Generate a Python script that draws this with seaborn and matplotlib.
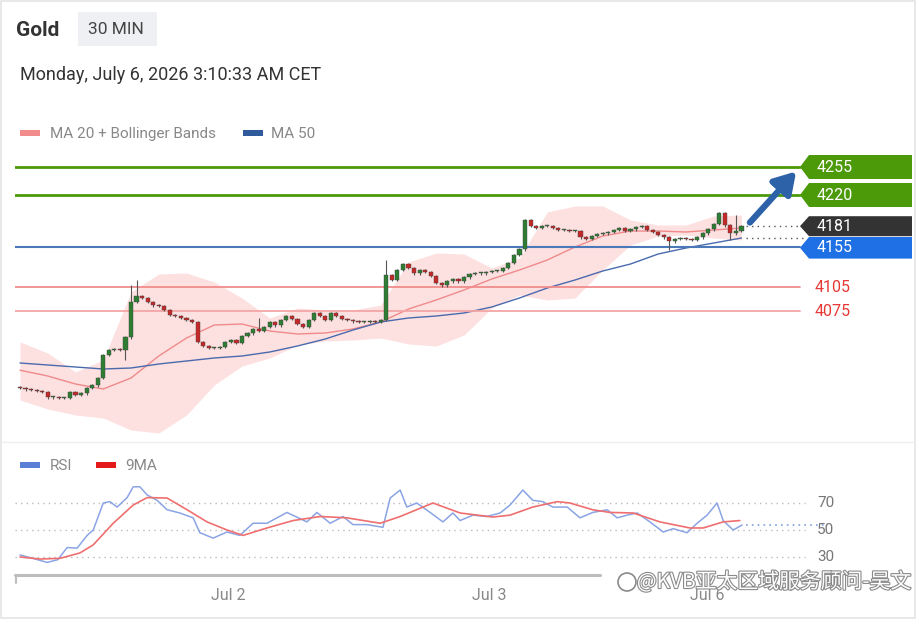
import numpy as np
import matplotlib.pyplot as plt
import matplotlib.patheffects as pe
from matplotlib.patches import Polygon, Rectangle
import pandas as pd
import seaborn as sns

# ---- DATA ----
# 30 min candles, Gold
first_open = 3980
closes = [3979, 3977, 3976, 3975, 3974, 3967, 3967, 3966, 3966, 3974,
          3970, 3972, 3979, 3982, 3991, 4020, 4026, 4027, 4026, 4042,
          4086, 4094, 4091, 4086, 4082, 4081, 4076, 4070, 4069, 4066,
          4064, 4061, 4036, 4031, 4029, 4029, 4030, 4036, 4039, 4035,
          4044, 4047, 4052, 4050, 4055, 4061, 4057, 4064, 4069, 4065,
          4059, 4055, 4064, 4072, 4069, 4064, 4072, 4069, 4065, 4064,
          4062, 4061, 4061, 4062, 4061, 4064, 4120, 4114, 4126, 4134,
          4129, 4122, 4126, 4124, 4119, 4110, 4107, 4112, 4115, 4112,
          4117, 4121, 4122, 4122, 4124, 4125, 4125, 4129, 4135, 4145,
          4152, 4189, 4181, 4179, 4181, 4181, 4179, 4176, 4176, 4175,
          4175, 4167, 4165, 4169, 4171, 4172, 4174, 4176, 4179, 4175,
          4177, 4180, 4181, 4176, 4174, 4170, 4167, 4162, 4165, 4166,
          4165, 4164, 4167, 4172, 4177, 4184, 4197, 4182, 4172, 4175,
          4181]
# long wicks: candle -> (high, low)
long_wicks = {19: (None, 4014), 20: (4107, None), 21: (4114, None),
              43: (4066, None), 66: (4139, None), 76: (None, 4105),
              117: (None, 4151), 128: (None, 4164), 129: (4195, None)}

ind_idx = [0, 5, 10, 15, 20, 25, 30, 35, 40, 45, 50, 55, 60, 65,
           70, 75, 80, 85, 90, 95, 100, 105, 110, 115, 120, 125, 130]
ma50 = [4010, 4007.5, 4005, 4002.5, 4003.75, 4008.75, 4012.5, 4016.25, 4018.75,
        4023.75, 4031.25, 4040, 4051.25, 4061.25, 4066.25, 4068.75, 4072.5, 4080,
        4091.25, 4103.75, 4113.75, 4125, 4133.75, 4146.25, 4153.75, 4160, 4166.25]
ma20 = [4001, 3993.75, 3983.75, 3977.5, 3991.25, 4018.75, 4041.25, 4057.5, 4058.75,
        4050, 4046.25, 4047.5, 4052.5, 4061.25, 4077.5, 4088.75, 4101.25, 4115,
        4126.25, 4138.75, 4155, 4168.75, 4175, 4175, 4173.75, 4176.25, 4178.75]
bb_upper = [4036.25, 4022.5, 3998.75, 4013.75, 4098.75, 4121.25, 4122.5, 4111.25,
            4091.25, 4066.25, 4078.75, 4076.25, 4076.25, 4082.5, 4136.25, 4147.5,
            4146.25, 4128.75, 4141.25, 4198.75, 4206.25, 4206.25, 4188.75, 4182.5,
            4182.5, 4193.75, 4195]
bb_lower = [3963.75, 3952.5, 3945, 3941.25, 3926.25, 3922.5, 3945, 3982.5, 4006.25,
            4016.25, 4032.5, 4037.5, 4038.75, 4041.25, 4033.75, 4031.25, 4045,
            4078.75, 4095, 4088.75, 4091.25, 4126.25, 4157.5, 4168.75, 4170,
            4166.25, 4163.75]

rsi_idx = [0, 2.3, 4.9, 6.8, 8.5, 10.3, 12.1, 13.2, 15, 16.2, 17.5, 19.3, 20.4,
           21.6, 22.9, 24.7, 26.5, 28.8, 31.2, 32.4, 34.8, 37.3, 39.6, 42, 44.5,
           48.1, 51.7, 53.5, 55.9, 58.2, 60, 62.5, 65.4, 66.7, 68.5, 69.7, 71.5,
           73.9, 76.2, 78, 79.3, 81.6, 84.1, 86.5, 88.3, 90.6, 92.4, 94.2, 96,
           98.6, 100.9, 103.2, 105.8, 107.6, 109.4, 111.2, 113.5, 115.9, 117.7,
           120.2, 122, 123.8, 125.6, 126.7, 128.5, 130.1]
rsi = [31.5, 29, 26, 28, 37, 36.6, 46, 50, 70, 71, 67, 74, 82, 82, 76, 72, 65,
       62.6, 59, 48, 44, 48.5, 46, 55, 55, 63, 56, 63, 55, 60, 54, 54, 52, 73.7,
       79.6, 67, 70, 63, 56, 62.6, 57, 61, 60, 62.6, 68.5, 79.6, 72, 71, 67, 67,
       59, 63, 65, 59, 61, 62.6, 56, 48.5, 51, 48, 55, 61, 70, 57, 50, 53.7]
rsi_ma_idx = [0, 3.6, 7.2, 10.8, 13.2, 16.8, 20.4, 22.9, 26.5, 30.1, 33.7, 37.3,
              40.2, 44.5, 49.2, 54.1, 58.9, 64.9, 68.5, 74.4, 79.3, 85.2, 88.3,
              92.4, 96.8, 99.1, 103.2, 106.3, 110.5, 115.3, 120.7, 123.1, 126.7,
              129.7]
rsi_ma = [30, 28.5, 29, 33, 39, 55, 68.5, 74, 73.7, 65, 56, 50, 46, 51.5, 57, 60,
          59, 55, 60, 70, 62.6, 59.6, 61, 67, 71, 70, 65, 63, 62.6, 56, 51.5, 51.5,
          56, 57]

levels_green = [4255, 4220]
level_pivot = 4155
levels_red = [4105, 4075]
last_price = 4181
ma50_last = 4166

date_ticks = [37.5, 84.5, 123.8]
date_labels = ['Jul 2', 'Jul 3', 'Jul 6']
rsi_levels = [70, 50, 30]
rsi_last = 54

# ---- STYLE ----
sns.set_theme(style='white')
plt.rcParams['font.family'] = ['Roboto', 'DejaVu Sans']

W, H = 920, 624
fig = plt.figure(figsize=(W / 100, H / 100), dpi=100)
fig.patch.set_facecolor('white')


def fx(x):
    return x / W


def fy(y):
    return 1 - y / H


# pixel overlay for frame / decorations
ov = fig.add_axes([0, 0, 1, 1])
ov.set_xlim(0, W)
ov.set_ylim(H, 0)
ov.axis('off')
ov.add_patch(Rectangle((1, 1), 914, 617, fill=False, ec='#e4e4e4', lw=1.2))
ov.plot([1, 915], [442, 442], color='#eeeeee', lw=1)
ov.add_patch(Rectangle((78, 12), 79, 34, fc='#eef0f3', ec='none'))

fig.text(fx(16), fy(30), 'Gold', fontsize=15, fontweight='bold',
         color='#333333', va='center')
fig.text(fx(88), fy(29), '30 MIN', fontsize=12.5, color='#444444', va='center')
fig.text(fx(20), fy(75), 'Monday, July 6, 2026 3:10:33 AM CET', fontsize=13,
         color='#333333', va='center')

# legends
ov.add_patch(Rectangle((20, 130), 20, 6, fc='#f28b8b', ec='none'))
fig.text(fx(50), fy(134), 'MA 20 + Bollinger Bands', fontsize=11,
         color='#888888', va='center')
ov.add_patch(Rectangle((243, 130), 20, 6, fc='#2f5a9c', ec='none'))
fig.text(fx(271), fy(134), 'MA 50', fontsize=11, color='#888888', va='center')

ov.add_patch(Rectangle((20, 462), 20, 6, fc='#5b7fd6', ec='none'))
fig.text(fx(50), fy(466), 'RSI', fontsize=11, color='#888888', va='center')
ov.add_patch(Rectangle((96, 462), 20, 6, fc='#e41a1a', ec='none'))
fig.text(fx(125), fy(466), '9MA', fontsize=11, color='#888888', va='center')

# ---- PRICE PANEL ----
x0 = -5 / 5.55
x1 = 895 / 5.55
ax = fig.add_axes([fx(15), fy(440), fx(900), 290 / H])
ax.set_xlim(x0, x1)
ax.set_ylim(3913.75, 4276.25)
ax.axis('off')

ax.fill_between(ind_idx, bb_lower, bb_upper, color='#fde0e0', lw=0, zorder=1)
sns.lineplot(x=ind_idx, y=ma20, ax=ax, color='#f08a8a', lw=1, zorder=2)
sns.lineplot(x=ind_idx, y=ma50, ax=ax, color='#4a6aae', lw=1, zorder=2)

line_end = (800 - 15) / 900
for lv in levels_green:
    ax.axhline(lv, xmin=0, xmax=line_end, color='#4c9a0a', lw=2, zorder=3)
ax.axhline(level_pivot, xmin=0, xmax=line_end, color='#4a78b8', lw=1.5, zorder=3)
for lv, c in zip(levels_red, ['#f08c8c', '#f4a6a6']):
    ax.axhline(lv, xmin=0, xmax=line_end, color=c, lw=1.3, zorder=3)

# candles
opens = [first_open] + closes[:-1]
df = pd.DataFrame({'i': np.arange(len(closes)), 'open': opens, 'close': closes})
df['high'] = df[['open', 'close']].max(axis=1) + 1.5
df['low'] = df[['open', 'close']].min(axis=1) - 1.5
for k, (hi, lo) in long_wicks.items():
    if hi is not None:
        df.loc[k, 'high'] = hi
    if lo is not None:
        df.loc[k, 'low'] = lo
up = df['close'] >= df['open']
ax.vlines(df['i'], df['low'], df['high'], color='#555555', lw=0.8, zorder=4)
body = (df['close'] - df['open']).abs().clip(lower=1.3)
ax.bar(df['i'], body, bottom=df[['open', 'close']].min(axis=1), width=0.75,
       color=np.where(up, '#2e7d32', '#c62828'), edgecolor='#444444',
       linewidth=0.3, zorder=5)

# dotted current-price lines
last_i = len(closes) - 1
px805 = (805 - 20) / 5.55
ax.plot([last_i + 0.8, px805], [last_price, last_price], color='#555555',
        lw=1, ls=(0, (1, 3)), zorder=3)
ax.plot([last_i + 0.8, px805], [ma50_last, ma50_last], color='#555555',
        lw=1, ls=(0, (1, 3)), zorder=3)

# arrow
ax.annotate('', xy=((798 - 20) / 5.55, 4252), xytext=((748 - 20) / 5.55, 4183),
            arrowprops=dict(arrowstyle='-|>,head_width=0.55,head_length=0.9',
                            color='#2d62a8', lw=4.5, mutation_scale=14),
            zorder=6)

# price tags
tag_l = (800 - 20) / 5.55
tag_n = (809 - 20) / 5.55
tag_r = (912 - 20) / 5.55
tags = [(levels_green[0], 15, '#4c9a0a'), (levels_green[1], 15, '#4c9a0a'),
        (last_price, 12.5, '#333333'), (level_pivot, 13.5, '#1f6fe5')]
for val, hh, c in tags:
    cy = val if val != level_pivot else val - 1
    ax.add_patch(Polygon([(tag_l, cy), (tag_n, cy + hh), (tag_r, cy + hh),
                          (tag_r, cy - hh), (tag_n, cy - hh)],
                         closed=True, fc=c, ec='none', zorder=7,
                         clip_on=False))
    ax.text((817 - 20) / 5.55, cy, str(val), color='white', fontsize=11.5,
            va='center', ha='left', zorder=8)
for lv in levels_red:
    ax.text((815 - 20) / 5.55, lv, str(lv), color='#e53935', fontsize=11.5,
            va='center', ha='left', zorder=8)

# ---- RSI PANEL ----
ax2 = fig.add_axes([fx(15), fy(575), fx(900), 120 / H])
ax2.set_xlim(x0, x1)
ax2.set_ylim(50 - 45 / 1.35, 50 + 75 / 1.35)
ax2.axis('off')
for lv in rsi_levels:
    ax2.plot([x0, px805], [lv, lv], color='#bbbbbb', lw=1, ls=(0, (1, 3)))
    ax2.text((817 - 20) / 5.55, lv, str(lv), color='#777777', fontsize=11,
             va='center', ha='left')
ax2.plot([last_i + 0.8, (828 - 20) / 5.55], [rsi_last, rsi_last],
         color='#7f9fe0', lw=1.2, ls=(0, (1, 2.5)))
sns.lineplot(x=rsi_idx, y=rsi, ax=ax2, color='#8aa4e4', lw=1.1)
sns.lineplot(x=rsi_ma_idx, y=rsi_ma, ax=ax2, color='#ef6f6f', lw=1.2)

# x axis
ov.plot([15, 600], [575, 575], color='#bdbdbd', lw=2.2)
ov.plot([16, 16], [575, 583], color='#bdbdbd', lw=1.5)
for t, lab in zip(date_ticks, date_labels):
    ax2.text(t, 50 - 66 / 1.35, lab, color='#888888', fontsize=11.5,
             ha='center', va='center')

# watermark
fig.text(fx(912), fy(582), '@KVB亚太区域服务顾问-吴文', fontsize=15,
         color='white', ha='right', va='center',
         family=['Noto Sans CJK SC', 'DejaVu Sans'],
         path_effects=[pe.withStroke(linewidth=1.6, foreground='#8a8a8a')])
ov.add_patch(plt.Circle((627, 582), 9, fill=False, ec='#8a8a8a', lw=1.2))

fig.savefig('out.png', dpi=100)
